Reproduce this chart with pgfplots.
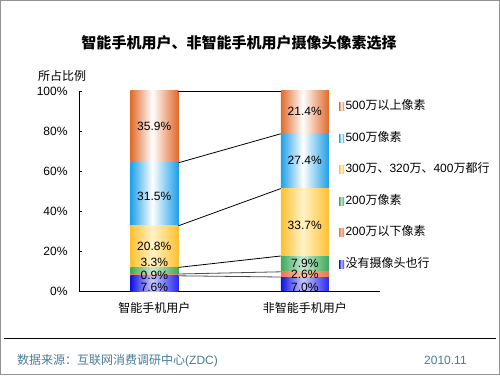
\documentclass[border=0pt]{standalone}
\usepackage{fontspec}
\usepackage{pgfplots}
\pgfplotsset{compat=1.18}
\setmainfont{Liberation Sans}
\newfontfamily\cjk{Noto Sans CJK SC}
\definecolor{cOr}{HTML}{E06A2A}
\definecolor{cBl}{HTML}{1E9FE8}
\definecolor{cYe}{HTML}{FFC030}
\definecolor{cYeM}{HTML}{FFF3C8}
\definecolor{cGr}{HTML}{3DAA5C}
\definecolor{cGrM}{HTML}{C8EAD0}
\definecolor{cRd}{HTML}{E8764A}
\definecolor{cRdM}{HTML}{F8C8B0}
\definecolor{cDb}{HTML}{1010E0}
\definecolor{cDbR}{HTML}{2828F0}
\definecolor{cDbM}{HTML}{C8C8FF}
\definecolor{cFoot}{HTML}{4A7C98}
\pgfdeclarehorizontalshading{shOr}{100bp}{color(0bp)=(cOr); color(25bp)=(cOr); color(48bp)=(white); color(75bp)=(cOr); color(100bp)=(cOr)}
\pgfdeclarehorizontalshading{shBl}{100bp}{color(0bp)=(cBl); color(25bp)=(cBl); color(48bp)=(white); color(75bp)=(cBl); color(100bp)=(cBl)}
\pgfdeclarehorizontalshading{shYe}{100bp}{color(0bp)=(cYe); color(25bp)=(cYe); color(48bp)=(cYeM); color(75bp)=(cYe); color(100bp)=(cYe)}
\pgfdeclarehorizontalshading{shGr}{100bp}{color(0bp)=(cGr); color(25bp)=(cGr); color(48bp)=(cGrM); color(75bp)=(cGr); color(100bp)=(cGr)}
\pgfdeclarehorizontalshading{shRd}{100bp}{color(0bp)=(cRd); color(25bp)=(cRd); color(48bp)=(cRdM); color(75bp)=(cRd); color(100bp)=(cRd)}
\pgfdeclarehorizontalshading{shDb}{100bp}{color(0bp)=(cDb); color(25bp)=(cDb); color(48bp)=(cDbM); color(75bp)=(cDbR); color(100bp)=(cDbR)}
\newcommand{\fs}[1]{\fontsize{#1}{#1}\selectfont}
\pgfplotsset{
  mybar/.style={draw=none, shading=#1, shading angle=0,
    legend image code/.code={\shade[##1] (0bp,-4bp) rectangle (5bp,4bp);}},
  base/.style={at={(79bp,84bp)}, anchor=south west,
    scale only axis, width=301bp, height=200bp,
    xmin=-0.5, xmax=1.5, ymin=0, ymax=100},
}
\begin{document}
\begin{tikzpicture}[x=1bp,y=1bp]
\useasboundingbox (0,0) rectangle (500,375);
\fill[white] (0,0) rectangle (500,375);
\draw[gray!85, line width=1.2bp] (0.6,0.6) rectangle (499.4,374.4);
% second bar (non-smartphone users)
\begin{axis}[base, hide axis, ybar stacked, bar width=48bp]
\addplot[mybar=shDb] coordinates {(1,7.0)};
\addplot[mybar=shRd] coordinates {(1,2.6)};
\addplot[mybar=shGr] coordinates {(1,7.9)};
\addplot[mybar=shYe] coordinates {(1,33.7)};
\addplot[mybar=shBl] coordinates {(1,27.4)};
\addplot[mybar=shOr] coordinates {(1,21.4)};
\end{axis}
% first bar (smartphone users), axes and legend
\begin{axis}[
  base,
  ybar stacked, bar width=48bp,
  axis x line*=bottom, axis y line*=left,
  axis line style={-, black, line width=0.8bp},
  xtick={0,1}, xticklabels={{\cjk 智能手机用户},{\cjk 非智能手机用户}},
  x tick style={draw=none},
  extra x ticks={0.5,1.5}, extra x tick labels={},
  extra x tick style={major tick length=4bp, tick style={draw=black, line width=0.8bp}, tick align=inside},
  xticklabel style={font=\fs{12bp}, yshift=-8bp},
  ytick={0,20,40,60,80,100},
  yticklabel={\pgfmathprintnumber{\tick}\%},
  yticklabel style={font=\fs{12bp}, xshift=-8bp},
  /pgf/number format/assume math mode=true,
  y tick style={black, line width=0.8bp},
  tick align=inside, major tick length=3bp,
  reverse legend,
  legend style={draw=none, fill=none, at={(rel axis cs:0.8638,0.9515)}, anchor=north west,
    inner sep=0pt, outer sep=0pt, row sep=19.5bp, column sep=1.5bp,
    nodes={inner sep=0pt, text height=9bp, text depth=3bp, font=\fs{12bp}}},
  legend cell align=left,
]
\addplot[mybar=shDb] coordinates {(0,7.6)};
\addlegendentry{{\cjk 没有摄像头也行}}
\addplot[mybar=shRd] coordinates {(0,0.9)};
\addlegendentry{200{\cjk 万以下像素}}
\addplot[mybar=shGr] coordinates {(0,3.3)};
\addlegendentry{200{\cjk 万像素}}
\addplot[mybar=shYe] coordinates {(0,20.8)};
\addlegendentry{300{\cjk 万、}320{\cjk 万、}400{\cjk 万都行}}
\addplot[mybar=shBl] coordinates {(0,31.5)};
\addlegendentry{500{\cjk 万像素}}
\addplot[mybar=shOr] coordinates {(0,35.9)};
\addlegendentry{500{\cjk 万以上像素}}
\end{axis}
% connector lines and value labels
\begin{axis}[base, hide axis, clip=false]
\addplot[gray!60!black, line width=0.8bp] coordinates {(0.16,7.6) (0.84,7.0)};
\addplot[gray!60!black, line width=0.8bp] coordinates {(0.16,8.5) (0.84,9.6)};
\addplot[black, line width=0.8bp] coordinates {(0.16,11.8) (0.84,17.5)};
\addplot[black, line width=0.8bp] coordinates {(0.16,32.6) (0.84,51.2)};
\addplot[black, line width=0.8bp] coordinates {(0.16,64.1) (0.84,78.6)};
\addplot[black, line width=0.8bp] coordinates {(0.16,100) (0.84,100)};
\addplot[only marks, mark=none, nodes near coords, point meta=explicit symbolic,
  nodes near coords style={anchor=center, font=\fs{12bp}, inner sep=0pt, text=black}]
  coordinates {
  (0,82.2) [35.9\%] (0,47.2) [31.5\%] (0,22.5) [20.8\%] (0,14.2) [3.3\%] (0,7.7) [0.9\%] (0,1.7) [7.6\%]
  (1,89.7) [21.4\%] (1,65.3) [27.4\%] (1,32.7) [33.7\%] (1,13.6) [7.9\%] (1,8.1) [2.6\%] (1,1.7) [7.0\%]
  };
\end{axis}
\node[font=\cjk\bfseries\fs{15bp}] at (239,332) {智能手机用户、非智能手机用户摄像头像素选择};
\node[font=\cjk\fs{12bp}, anchor=west, inner sep=0pt] at (38,299) {所占比例};
\draw[black, line width=1bp] (4,36.7) -- (496,36.7);
\node[font=\fs{12bp}, text=cFoot, anchor=west, inner sep=0pt] at (17,14.3) {{\cjk 数据来源：互联网消费调研中心}(ZDC)};
\node[font=\fs{12bp}, text=cFoot, anchor=west, inner sep=0pt] at (424,14.3) {2010.11};
\end{tikzpicture}
\end{document}
